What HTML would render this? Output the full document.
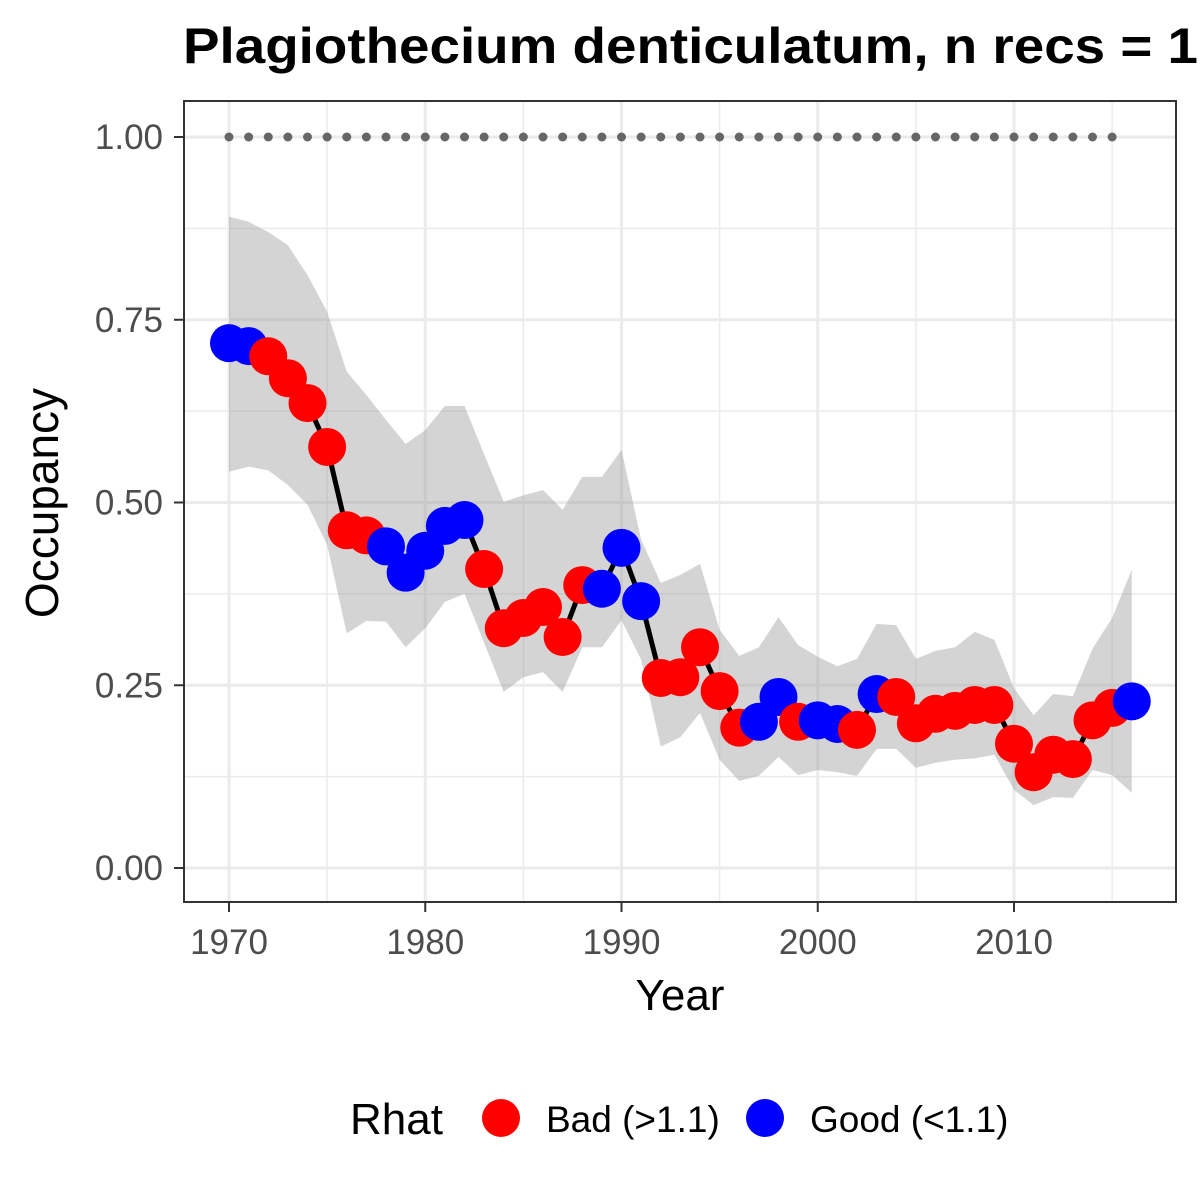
<!DOCTYPE html>
<html><head><meta charset="utf-8"><style>
body{margin:0;background:#fff;}
svg{display:block;font-family:"Liberation Sans",Arial,sans-serif;}
</style></head><body>
<svg id="chart" width="1200" height="1200" viewBox="0 0 1200 1200">
<text x="183" y="63" font-size="50" font-weight="bold" fill="#000" textLength="1015" lengthAdjust="spacingAndGlyphs">Plagiothecium denticulatum, n recs = 1</text>
<rect x="184" y="101" width="992" height="801" fill="#fff"/>
<g id="grid"></g>
<g id="ribbon"></g>
<g id="dots"></g>
<g id="line"></g>
<g id="points"></g>
<rect x="184" y="101" width="992" height="801" fill="none" stroke="#333" stroke-width="2"/>
<g id="axes"></g>
<text x="680" y="1010" font-size="44" text-anchor="middle" fill="#000">Year</text>
<text transform="translate(58,503) rotate(-90)" font-size="46" text-anchor="middle" fill="#000">Occupancy</text>
<g>
<text x="350" y="1134" font-size="44" fill="#000">Rhat</text>
<circle cx="501" cy="1118" r="19" fill="#ff0000"/>
<text x="546" y="1132" font-size="37" fill="#000">Bad (&gt;1.1)</text>
<circle cx="765" cy="1118" r="19" fill="#0000ff"/>
<text x="810" y="1132" font-size="37" fill="#000">Good (&lt;1.1)</text>
</g>
</svg>
<script>
const years=[1970,1971,1972,1973,1974,1975,1976,1977,1978,1979,1980,1981,1982,1983,1984,1985,1986,1987,1988,1989,1990,1991,1992,1993,1994,1995,1996,1997,1998,1999,2000,2001,2002,2003,2004,2005,2006,2007,2008,2009,2010,2011,2012,2013,2014,2015,2016];
const occupancy=[0.718,0.714,0.700,0.670,0.636,0.576,0.462,0.455,0.440,0.404,0.434,0.468,0.476,0.409,0.328,0.342,0.357,0.316,0.387,0.382,0.438,0.365,0.260,0.261,0.302,0.242,0.192,0.200,0.234,0.200,0.202,0.197,0.189,0.238,0.234,0.198,0.211,0.215,0.223,0.223,0.170,0.131,0.155,0.149,0.202,0.219,0.228];
const upper=[0.891,0.884,0.870,0.852,0.811,0.761,0.679,0.647,0.613,0.580,0.599,0.632,0.632,0.566,0.501,0.510,0.517,0.490,0.535,0.535,0.572,0.449,0.390,0.401,0.416,0.326,0.290,0.302,0.343,0.305,0.289,0.276,0.286,0.334,0.332,0.286,0.297,0.302,0.323,0.312,0.246,0.209,0.238,0.235,0.300,0.342,0.408];
const lower=[0.542,0.549,0.544,0.524,0.497,0.442,0.321,0.338,0.337,0.302,0.328,0.364,0.375,0.308,0.241,0.261,0.268,0.241,0.302,0.302,0.339,0.285,0.166,0.179,0.212,0.148,0.119,0.126,0.152,0.127,0.134,0.131,0.126,0.163,0.163,0.137,0.144,0.148,0.150,0.155,0.107,0.086,0.097,0.096,0.134,0.127,0.103];
const rhat=["G","G","B","B","B","B","B","B","G","G","G","G","G","B","B","B","B","B","B","G","G","G","B","B","B","B","B","G","G","B","G","G","B","G","B","B","B","B","B","B","B","B","B","B","B","B","G"];
const dotYears=[1970,1971,1972,1973,1974,1975,1976,1977,1978,1979,1980,1981,1982,1983,1984,1985,1986,1987,1988,1989,1990,1991,1992,1993,1994,1995,1996,1997,1998,1999,2000,2001,2002,2003,2004,2005,2006,2007,2008,2009,2010,2011,2012,2013,2014,2015];
const yTicks=[0,0.25,0.5,0.75,1];
const yTickLabels=["0.00","0.25","0.50","0.75","1.00"];
const xTicks=[1970,1980,1990,2000,2010];

const NS="http://www.w3.org/2000/svg";
const X=v=>229+(v-1970)*19.625;
const Y=v=>868-v*731;
function mk(tag,attrs,parent){const e=document.createElementNS(NS,tag);for(const k in attrs)e.setAttribute(k,attrs[k]);parent.appendChild(e);return e;}
const G=id=>document.getElementById(id);

const grid=G('grid');
[0.125,0.375,0.625,0.875].forEach(v=>{const l=mk('line',{x1:184,x2:1176,y1:Y(v),y2:Y(v),stroke:'#ebebeb','stroke-width':1.5},grid);

});
[1975,1985,1995,2005,2015].forEach(v=>{const l=mk('line',{x1:X(v),x2:X(v),y1:101,y2:902,stroke:'#ebebeb','stroke-width':1.5},grid);

});
yTicks.forEach(v=>{const l=mk('line',{x1:184,x2:1176,y1:Y(v),y2:Y(v),stroke:'#ebebeb','stroke-width':3},grid);

});
xTicks.forEach(v=>{const l=mk('line',{x1:X(v),x2:X(v),y1:101,y2:902,stroke:'#ebebeb','stroke-width':3},grid);

});

let d='';years.forEach((y,i)=>{d+=(i?'L':'M')+X(y)+','+Y(upper[i]);});
for(let i=years.length-1;i>=0;i--)d+='L'+X(years[i])+','+Y(lower[i]);
const rb=mk('path',{d:d+'Z',fill:'#a0a0a0','fill-opacity':0.45},G('ribbon'));



dotYears.forEach(y=>{const c=mk('circle',{cx:X(y),cy:Y(1),r:4.5,fill:'#666'},G('dots'));

});

const pl=mk('polyline',{points:years.map((y,i)=>X(y)+','+Y(occupancy[i])).join(' '),fill:'none',stroke:'#000','stroke-width':5,'stroke-linejoin':'round'},G('line'));



years.forEach((y,i)=>{const c=mk('circle',{cx:X(y),cy:Y(occupancy[i]),r:19,fill:rhat[i]==='G'?'#0000ff':'#ff0000'},G('points'));

});

const ax=G('axes');
yTicks.forEach((v,i)=>{const t=mk('line',{x1:174,x2:184,y1:Y(v),y2:Y(v),stroke:'#333','stroke-width':2},ax);


const tx=mk('text',{x:163,y:Y(v)+12,'font-size':35,'text-anchor':'end',fill:'#4d4d4d'},ax);tx.textContent=yTickLabels[i];

});
xTicks.forEach(v=>{const t=mk('line',{x1:X(v),x2:X(v),y1:902,y2:912,stroke:'#333','stroke-width':2},ax);


const tx=mk('text',{x:X(v),y:954,'font-size':35,'text-anchor':'middle',fill:'#4d4d4d'},ax);tx.textContent=String(v);

});
</script>
</body></html>
